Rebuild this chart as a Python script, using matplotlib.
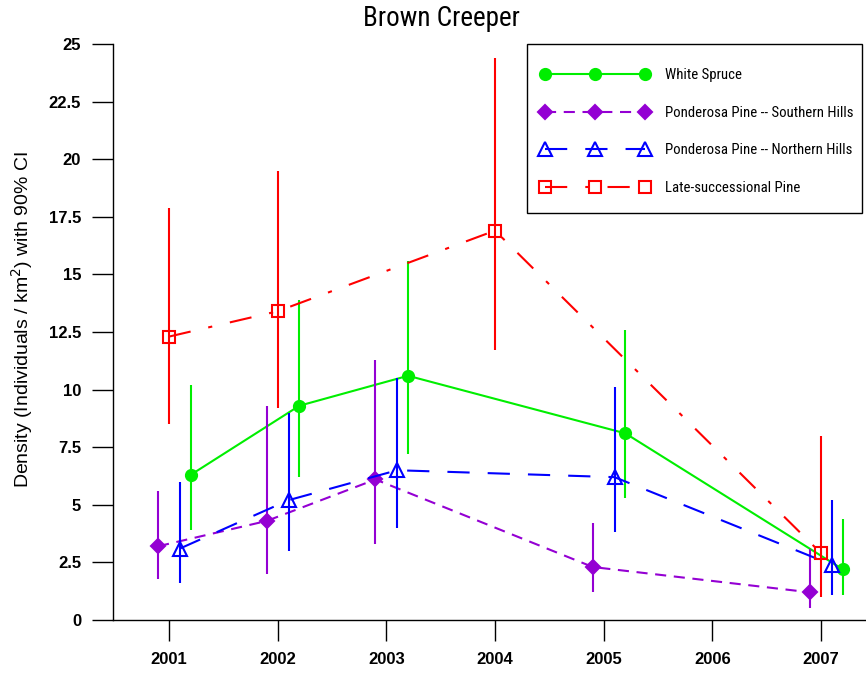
import matplotlib
matplotlib.use("Agg")
import matplotlib.pyplot as plt
from matplotlib.patches import Rectangle
import numpy as np

# Brown Creeper density estimates with 90% CI, by habitat and year
spruce_years = [2001, 2002, 2003, 2005, 2007]
spruce_est = [6.3, 9.3, 10.6, 8.1, 2.2]
spruce_lo = [3.9, 6.2, 7.2, 5.3, 1.1]
spruce_hi = [10.2, 13.9, 15.6, 12.6, 4.4]

pp_south_years = [2001, 2002, 2003, 2005, 2007]
pp_south_est = [3.2, 4.3, 6.1, 2.3, 1.2]
pp_south_lo = [1.8, 2.0, 3.3, 1.2, 0.5]
pp_south_hi = [5.6, 9.3, 11.3, 4.2, 3.1]

pp_north_years = [2001, 2002, 2003, 2005, 2007]
pp_north_est = [3.1, 5.2, 6.5, 6.2, 2.4]
pp_north_lo = [1.6, 3.0, 4.0, 3.8, 1.1]
pp_north_hi = [6.0, 9.0, 10.5, 10.1, 5.2]

late_years = [2001, 2002, 2004, 2007]
late_est = [12.3, 13.4, 16.9, 2.9]
late_lo = [8.5, 9.2, 11.7, 1.0]
late_hi = [17.9, 19.5, 24.4, 8.0]

year_ticks = [2001, 2002, 2003, 2004, 2005, 2006, 2007]
y_ticks = [0, 2.5, 5, 7.5, 10, 12.5, 15, 17.5, 20, 22.5, 25]
y_tick_labels = ["0", "2.5", "5", "7.5", "10", "12.5", "15", "17.5", "20", "22.5", "25"]

plt.rcParams["font.family"] = ["Liberation Sans", "DejaVu Sans"]
plt.rcParams["lines.scale_dashes"] = False
NARROW = ["Roboto Condensed", "Liberation Sans", "DejaVu Sans"]
legend_size = 10.6
em_px = legend_size * 100 / 72

fig = plt.figure(figsize=(8.66, 6.73), dpi=100)
ax = fig.add_axes([113 / 866, 53 / 673, 753 / 866, 576 / 673])

series = [
    dict(x=spruce_years, y=spruce_est, lo=spruce_lo, hi=spruce_hi, off=0.2,
         color="#00ee00", ls="-", marker="o", ms=8, mfc="#00ee00",
         label="White Spruce"),
    dict(x=pp_south_years, y=pp_south_est, lo=pp_south_lo, hi=pp_south_hi, off=-0.1,
         color="#9400d3", ls=(0, (8, 5.5)), marker="D", ms=7, mfc="#9400d3",
         label="Ponderosa Pine -- Southern Hills"),
    dict(x=pp_north_years, y=pp_north_est, lo=pp_north_lo, hi=pp_north_hi, off=0.1,
         color="#0000ff", ls=(0, (16, 13)), marker="^", ms=10, mfc="none",
         label="Ponderosa Pine -- Northern Hills"),
    dict(x=late_years, y=late_est, lo=late_lo, hi=late_hi, off=0.0,
         color="#ff0000", ls=(0, (16, 13, 3, 13)), marker="s", ms=9, mfc="none",
         label="Late-successional Pine"),
]

handles = []
for s in series:
    xs = np.array(s["x"]) + s["off"]
    ax.vlines(xs, s["lo"], s["hi"], color=s["color"], lw=1.5)
    h, = ax.plot(xs, s["y"], color=s["color"], ls=s["ls"], lw=1.5,
                 marker=s["marker"], ms=s["ms"], mfc=s["mfc"],
                 mec=s["color"], mew=1.5, label=s["label"])
    handles.append(h)

ax.set_xlim(2000.485, 2007.414)
ax.set_ylim(0, 25)

for side in ["top", "right"]:
    ax.spines[side].set_visible(False)
ax.spines["left"].set_bounds(0, 25)
ax.spines["left"].set_linewidth(1)
ax.spines["bottom"].set_linewidth(1)

ax.set_xticks(year_ticks)
ax.set_xticklabels([str(y) for y in year_ticks], fontweight="bold", fontsize=12)
ax.set_yticks(y_ticks)
ax.set_yticklabels(y_tick_labels, fontweight="bold", fontsize=12)
ax.tick_params(axis="both", direction="out", length=15, width=1, pad=8)

fig.text(22 / 866, 1 - 320 / 673, "Density (Individuals / km$^2$) with 90% CI",
         rotation=90, ha="center", va="center", fontsize=14)
fig.text(441 / 866, 1 - 19 / 673, "Brown Creeper", ha="center", va="center",
         fontsize=19.5, family=NARROW)

# legend entries without frame; the box is drawn separately (R-style padding)
leg = ax.legend(handles=handles, loc="upper left",
                bbox_to_anchor=(541 / 866, 1 - 68 / 673),
                bbox_transform=fig.transFigure, borderaxespad=0,
                borderpad=0, numpoints=3, handlelength=108 / em_px,
                handletextpad=16 / em_px, labelspacing=23.7 / em_px,
                frameon=False, prop={"family": NARROW, "size": legend_size})
fig.patches.append(Rectangle((527 / 866, 1 - 213 / 673), 335 / 866, 169 / 673,
                             transform=fig.transFigure, fill=False,
                             edgecolor="black", linewidth=1))

fig.savefig("out.png", dpi=100)
